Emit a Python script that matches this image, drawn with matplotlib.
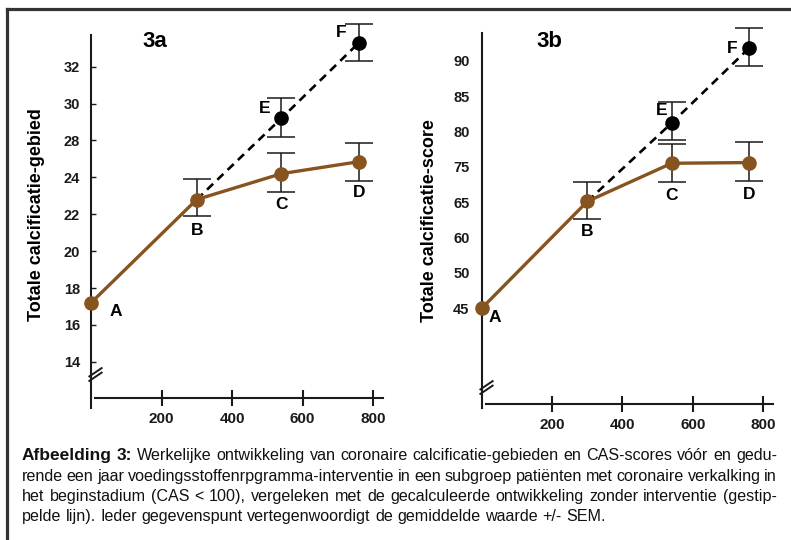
import numpy as np
import matplotlib
matplotlib.use('Agg')
import matplotlib.pyplot as plt
from matplotlib.path import Path
from matplotlib.lines import Line2D

plt.rcParams['font.family'] = ['Liberation Sans', 'DejaVu Sans']

# ===== data =====
point_names = ['A', 'B', 'C', 'D']
calc_names = ['E', 'F']
days = [0, 300, 540, 760]          # x of measured points A-D
calc_days = [300, 540, 760]        # B -> E -> F (calculated, dashed)

# 3a: total calcification area (tick labels skip 26 in the original)
a_ticks = [14, 16, 18, 20, 22, 24, 28, 30, 32]
a_vals = [17.2, 22.8, 24.4, 25.7]
a_low = [17.2, 21.9, 23.2, 23.8]
a_high = [17.2, 23.9, 26.6, 27.7]
a_calc = [22.8, 29.2, 33.3]
a_calc_low = [29.2, 28.2, 32.3]
a_calc_high = [29.2, 30.3, 34.3]

# 3b: total calcification score (odd tick sequence as in original)
b_ticks = [45, 50, 60, 65, 75, 80, 85, 90]
b_vals = [45.0, 65.2, 75.5, 75.6]
b_low = [45.0, 62.6, 70.7, 71.0]
b_high = [45.0, 70.7, 78.2, 78.5]
b_calc = [65.2, 81.2, 91.8]
b_calc_low = [81.2, 78.8, 89.3]
b_calc_high = [81.2, 84.2, 94.7]

x_ticks = [200, 400, 600, 800]

BROWN = '#87531f'
INK = '#1a1a1a'


def tick_scale(vals):
    # axis where every labelled tick is equally spaced (as drawn in the original)
    v = np.asarray(vals, float)
    idx = np.arange(len(v), dtype=float)

    def fwd(x):
        x = np.asarray(x, float)
        p = np.interp(x, v, idx)
        p = np.where(x < v[0], (x - v[0]) / (v[1] - v[0]), p)
        p = np.where(x > v[-1], idx[-1] + (x - v[-1]) / (v[-1] - v[-2]), p)
        return p

    def inv(p):
        p = np.asarray(p, float)
        x = np.interp(p, idx, v)
        x = np.where(p < 0, v[0] + p * (v[1] - v[0]), x)
        x = np.where(p > idx[-1], v[-1] + (p - idx[-1]) * (v[-1] - v[-2]), x)
        return x

    return fwd, inv


break_mark = Path([(-1, -1.0), (1, 0.35), (-1, -0.35), (1, 1.0)],
                  [Path.MOVETO, Path.LINETO, Path.MOVETO, Path.LINETO])

fig = plt.figure(figsize=(7.91, 5.40), dpi=100)

# frame (top and left edge only visible)
fig.add_artist(Line2D([7 / 791, 1.0], [1 - 9 / 540, 1 - 9 / 540], color='#333333', lw=2.3))
fig.add_artist(Line2D([7 / 791, 7 / 791], [0.0, 1 - 9 / 540], color='#333333', lw=2.3))


def panel(rect, ticks, ylim, ybounds, xaxis_y, break_y, vals, low, high,
          calc, clow, chigh, title, title_x, ylabel, ylabel_xy, label_offsets, ypad, ytick_len):
    ax = fig.add_axes(rect)
    fwd, inv = tick_scale(ticks)
    ax.set_yscale('function', functions=(fwd, inv))
    ax.set_xlim(0, 830)
    ax.set_ylim(*ylim)
    ax.patch.set_visible(False)

    for s in ['top', 'right']:
        ax.spines[s].set_visible(False)
    ax.spines['left'].set_position(('data', 0))
    ax.spines['left'].set_bounds(*ybounds)
    ax.spines['bottom'].set_position(('data', xaxis_y))
    ax.spines['bottom'].set_bounds(11, 828)
    for s in ['left', 'bottom']:
        ax.spines[s].set_linewidth(1.5)
        ax.spines[s].set_color(INK)
        ax.spines[s].set_clip_on(False)

    ax.set_yticks(ticks)
    ax.set_yticklabels([str(t) for t in ticks], fontweight='bold', fontsize=10.5)
    ax.set_xticks(x_ticks)
    ax.set_xticklabels([str(t) for t in x_ticks], fontweight='bold', fontsize=11)
    ax.yaxis.set_minor_locator(matplotlib.ticker.NullLocator())
    ax.tick_params(axis='y', direction='in', length=ytick_len, width=1, pad=ypad, colors=INK)
    ax.tick_params(axis='x', direction='inout', length=11.5, width=1.5, pad=4.5, colors=INK)

    # axis break
    ax.plot([11], [break_y], marker=break_mark, markersize=10, mfc='none',
            mec=INK, mew=1.4, ls='none', clip_on=False)

    # calculated course without intervention (dashed)
    ax.plot(calc_days, calc, color='black', lw=1.9, dashes=(3.2, 2.2), zorder=2, clip_on=False)
    ax.errorbar(calc_days[1:], calc[1:],
                yerr=[np.subtract(calc[1:], clow[1:]), np.subtract(chigh[1:], calc[1:])],
                fmt='o', color='black', ms=9.5, ecolor=INK, elinewidth=1.1,
                capsize=10, capthick=1.1, zorder=4, clip_on=False)

    # measured course
    ax.errorbar(days[1:], vals[1:],
                yerr=[np.subtract(vals[1:], low[1:]), np.subtract(high[1:], vals[1:])],
                fmt='none', ecolor=INK, elinewidth=1.1, capsize=10, capthick=1.1,
                zorder=3, clip_on=False)
    ax.plot(days, vals, color=BROWN, lw=2.4, marker='o', ms=9.5, mfc=BROWN,
            mec=BROWN, zorder=5, clip_on=False)

    names = point_names + calc_names
    xs = days + calc_days[1:]
    ys = vals + calc[1:]
    for name, x, y, off in zip(names, xs, ys, label_offsets):
        ax.annotate(name, (x, y), xytext=off, textcoords='offset points',
                    ha='center', va='center', fontsize=12.5, fontweight='bold')

    fig.text(title_x / 791, 1 - 42 / 540, title, ha='center', va='center',
             fontsize=16, fontweight='bold')
    fig.text(ylabel_xy[0] / 791, 1 - ylabel_xy[1] / 540, ylabel, rotation=90,
             ha='center', va='center', fontsize=13, fontweight='bold')
    return ax


panel([91 / 791, 1 - 408 / 540, 292.6 / 791, 393 / 540], a_ticks, (11.5, 34.8), (11.5, 33.7),
      12.05, 13.35, a_vals, a_low, a_high, a_calc, a_calc_low, a_calc_high,
      '3a', 155, 'Totale calcificatie-gebied', (37, 215),
      [(18, -6), (0, -22), (0, -22), (0, -22), (-12, 7), (-13, 7)], 8, 3.5)

panel([482 / 791, 1 - 408 / 540, 291.5 / 791, 393 / 540], b_ticks, (30.84, 96.5), (30.84, 93.95),
      31.4, 33.8, b_vals, b_low, b_high, b_calc, b_calc_low, b_calc_high,
      '3b', 549, 'Totale calcificatie-score', (430, 221),
      [(9, -7), (0, -22), (0, -23), (0, -23), (-7, 9), (-12, 0)], 9, 0)

# ===== caption, justified like the original =====
cap_lines = [
    'Werkelijke ontwikkeling van coronaire calcificatie-gebieden en CAS-scores vóór en gedu-',
    'rende een jaar voedingsstoffenrpgramma-interventie in een subgroep patiënten met coronaire verkalking in',
    'het beginstadium (CAS < 100), vergeleken met de gecalculeerde ontwikkeling zonder interventie (gestip-',
    'pelde lijn). Ieder gegevenspunt vertegenwoordigt de gemiddelde waarde +/- SEM.',
]
cap_y = [455, 476, 496, 516]
cap_x0, cap_x1 = 22, 777
cap_font = ['Liberation Sans', 'DejaVu Sans']
cap_size = 11.6
head_size = 12.5

renderer = fig.canvas.get_renderer()
for i, (line, yy) in enumerate(zip(cap_lines, cap_y)):
    words = line.split(' ')
    styles = ['normal'] * len(words)
    if i == 0:
        words = ['Afbeelding', '3:'] + words
        styles = ['bold', 'bold'] + styles
    texts = []
    for w, st in zip(words, styles):
        t = fig.text(0, 1 - (yy + 5) / 540, w,
                     fontsize=head_size if st == 'bold' else cap_size,
                     fontweight=st, family=cap_font, va='baseline', ha='left',
                     color='#111111')
        texts.append(t)
    widths = [t.get_window_extent(renderer).width for t in texts]
    if i < len(cap_lines) - 1:
        gap = (cap_x1 - cap_x0 - sum(widths)) / (len(words) - 1)
    else:
        sp = fig.text(0, 0, 'a b', fontsize=cap_size, family=cap_font)
        sp2 = fig.text(0, 0, 'ab', fontsize=cap_size, family=cap_font)
        gap = sp.get_window_extent(renderer).width - sp2.get_window_extent(renderer).width
        sp.remove()
        sp2.remove()
    x = cap_x0
    for t, w in zip(texts, widths):
        t.set_x(x / 791)
        x += w + gap

plt.savefig('out.png', dpi=100)
